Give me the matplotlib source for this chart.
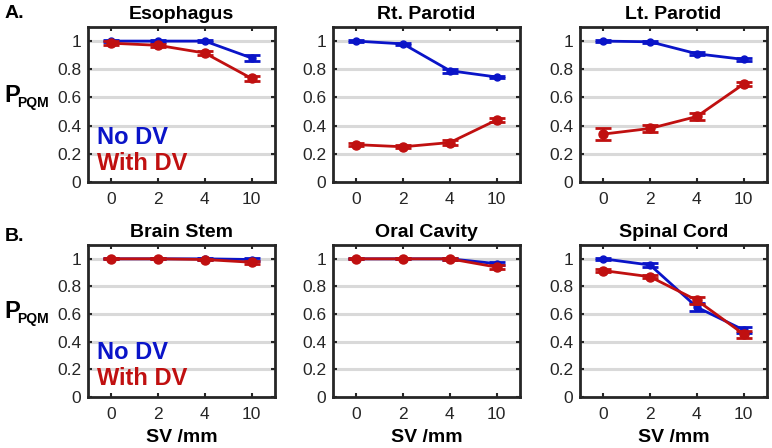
import numpy as np
import matplotlib.pyplot as plt

# data
sv_labels = ['0', '2', '4', '10']
titles = ['Esophagus', 'Rt. Parotid', 'Lt. Parotid', 'Brain Stem', 'Oral Cavity', 'Spinal Cord']

no_dv = [[1.0, 1.0, 1.0, 0.88],
         [1.0, 0.98, 0.79, 0.745],
         [1.0, 0.995, 0.91, 0.87],
         [1.0, 1.0, 1.0, 0.995],
         [1.0, 1.0, 1.0, 0.965],
         [1.0, 0.955, 0.65, 0.485]]
no_dv_err = [[0.005, 0.005, 0.008, 0.018],
             [0.005, 0.01, 0.015, 0.01],
             [0.005, 0.005, 0.01, 0.012],
             [0.003, 0.003, 0.005, 0.008],
             [0.003, 0.003, 0.005, 0.012],
             [0.008, 0.012, 0.03, 0.025]]
with_dv = [[0.985, 0.97, 0.915, 0.735],
           [0.265, 0.25, 0.28, 0.44],
           [0.34, 0.38, 0.465, 0.695],
           [1.0, 1.0, 0.995, 0.975],
           [1.0, 1.0, 1.0, 0.94],
           [0.915, 0.87, 0.70, 0.455]]
with_dv_err = [[0.015, 0.012, 0.012, 0.015],
               [0.01, 0.01, 0.015, 0.015],
               [0.04, 0.025, 0.025, 0.015],
               [0.003, 0.003, 0.005, 0.012],
               [0.003, 0.003, 0.005, 0.015],
               [0.01, 0.012, 0.025, 0.025]]

blue = '#0a14c8'
red = '#c01010'

W, H = 772, 448
plt.rcParams['font.family'] = 'Liberation Sans'
fig = plt.figure(figsize=(W / 100, H / 100), dpi=100)

lefts = [88, 333, 580]
rows = [(27, 182), (245, 397)]
aw = 187

x = np.arange(1, 5)
for i in range(6):
    r, c = divmod(i, 3)
    top, bot = rows[r]
    ax = fig.add_axes([lefts[c] / W, 1 - bot / H, aw / W, (bot - top) / H])
    for y in [0.2, 0.4, 0.6, 0.8, 1.0]:
        ax.axhline(y, color='#d9d9d9', lw=2.2, zorder=0)
    ax.errorbar(x, no_dv[i], yerr=no_dv_err[i], color=blue, lw=2, marker='o', ms=5,
                capsize=6, capthick=2, elinewidth=2, zorder=3)
    ax.errorbar(x, with_dv[i], yerr=with_dv_err[i], color=red, lw=2, marker='o', ms=6.5,
                capsize=6, capthick=2, elinewidth=2, zorder=4)
    ax.set_xlim(0.5, 4.5)
    ax.set_ylim(0, 1.1)
    ax.set_xticks(x)
    ax.set_xticklabels(sv_labels)
    ax.set_yticks([0, 0.2, 0.4, 0.6, 0.8, 1])
    ax.set_yticklabels(['0', '0.2', '0.4', '0.6', '0.8', '1'])
    ax.tick_params(direction='in', top=True, right=True, length=3, width=1.5,
                   labelsize=12.5, colors='#262626', pad=5)
    ax.tick_params(axis='x', pad=7)
    for s in ax.spines.values():
        s.set_linewidth(2)
        s.set_color('#262626')
    ax.set_title(titles[i], fontsize=14, fontweight='bold', pad=6)
    if c == 0:
        ax.text(0.05, 0.29, 'No DV', transform=ax.transAxes, color=blue,
                fontsize=17, fontweight='bold', va='center')
        ax.text(0.05, 0.12, 'With DV', transform=ax.transAxes, color=red,
                fontsize=17, fontweight='bold', va='center')
        # y label P with PQM subscript
        ax.text(-84 / aw, 0.56, 'P', transform=ax.transAxes, fontsize=17,
                fontweight='bold', ha='left', va='center')
        ax.text(-71 / aw, 0.51, 'PQM', transform=ax.transAxes, fontsize=10,
                fontweight='bold', ha='left', va='center')
    if r == 1:
        ax.set_xlabel('SV /mm', fontsize=14, fontweight='bold', labelpad=5)

fig.text(5 / W, 1 - 14 / H, 'A.', fontsize=14, fontweight='bold', va='center')
fig.text(5 / W, 1 - 236 / H, 'B.', fontsize=14, fontweight='bold', va='center')

fig.savefig('out.png', dpi=100)
